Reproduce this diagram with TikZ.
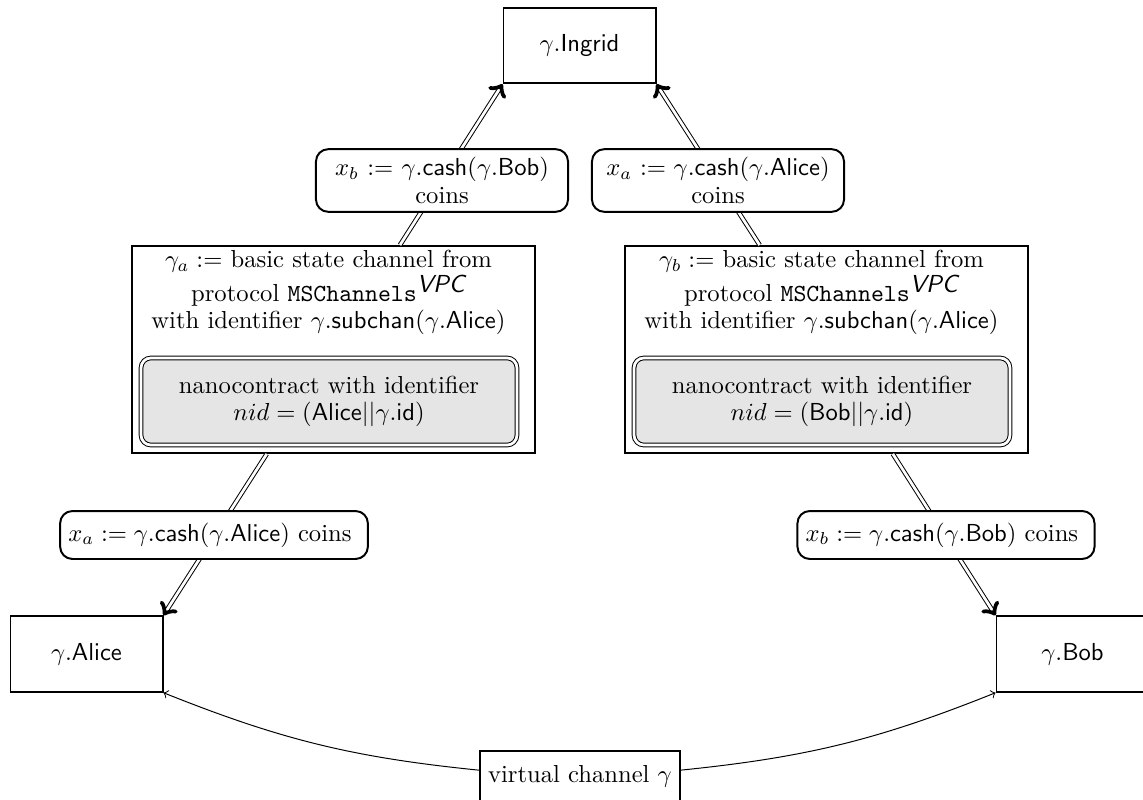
\documentclass[tikz,border=0pt]{standalone}
\begin{document}
\begin{tikzpicture}[x=0.4065pt, y=-0.4065pt,
  font=\fontsize{10}{11.2}\selectfont,
  actor/.style={draw, line width=0.8pt, minimum width=61.8pt, minimum height=30.7pt, inner sep=0pt},
  chanbox/.style={draw, line width=0.8pt, minimum width=163.8pt, minimum height=84.1pt, inner sep=0pt},
  chantext/.style={align=center, inner sep=0pt, anchor=north},
  nano/.style={draw, double, double distance=1.1pt, line width=0.4pt, fill=black!10, rounded corners=4pt, align=center, minimum width=152.8pt, minimum height=35.4pt, inner sep=0pt},
  coinlbl/.style={draw, line width=0.8pt, rounded corners=5pt, fill=white, align=center},
  flow/.style={double, double distance=1.1pt, line width=0.4pt, ->},
  vlink/.style={->, line width=0.4pt},
]
\useasboundingbox (0,0) rectangle (1143,800);

% channel boxes
\node[chanbox] (chA) at (333.5,349.5) {};
\node[chantext] (chAt) at (328.5,250) {$\gamma_a :=$ basic state channel from\\ protocol \texttt{MSChannels}$^{\textsf{\slshape VPC}}$\\ with identifier $\gamma.\mathsf{subchan}(\gamma.\mathsf{Alice})$};
\node[nano] (nanoA) at (329,401.5) {nanocontract with identifier\\ $nid = (\mathsf{Alice}||\gamma.\mathsf{id})$};

\node[chanbox] (chB) at (826.5,349.5) {};
\node[chantext] (chBt) at (821.5,250) {$\gamma_b :=$ basic state channel from\\ protocol \texttt{MSChannels}$^{\textsf{\slshape VPC}}$\\ with identifier $\gamma.\mathsf{subchan}(\gamma.\mathsf{Alice})$};
\node[nano] (nanoB) at (822,401.5) {nanocontract with identifier\\ $nid = (\mathsf{Bob}||\gamma.\mathsf{id})$};

% parties
\node[actor] (ing) at (579.5,45.5) {$\gamma.\mathsf{Ingrid}$};
\node[actor] (alice) at (86.5,654) {$\gamma.\mathsf{Alice}$};
\node[actor] (bob) at (1072.5,654) {$\gamma.\mathsf{Bob}$};
\node[draw, line width=0.8pt, minimum height=20.5pt] (vc) at (580,776) {virtual channel $\gamma$\ };

% connectors
\draw[flow] (chA) -- (ing.south west);
\draw[flow] (chB) -- (ing.south east);
\draw[flow] (chA) -- (alice.north east);
\draw[flow] (chB) -- (bob.north west);
\draw[vlink] (vc) to[bend left=8] (alice.south east);
\draw[vlink] (vc) to[bend right=8] (bob.south west);

% coin labels
\node[coinlbl, text width=95.8pt] (cTL) at (442,180.5) {$x_b := \gamma.\mathsf{cash}(\gamma.\mathsf{Bob})$\\ coins};
\node[coinlbl, text width=95.8pt] (cTR) at (718,180.5) {$x_a := \gamma.\mathsf{cash}(\gamma.\mathsf{Alice})$\\ coins};
\node[coinlbl, minimum height=19.5pt] (cML) at (214,535) {$x_a := \gamma.\mathsf{cash}(\gamma.\mathsf{Alice})$ coins\ };
\node[coinlbl, minimum height=19.5pt] (cMR) at (946,535) {$x_b := \gamma.\mathsf{cash}(\gamma.\mathsf{Bob})$ coins\ };
\end{tikzpicture}
\end{document}
